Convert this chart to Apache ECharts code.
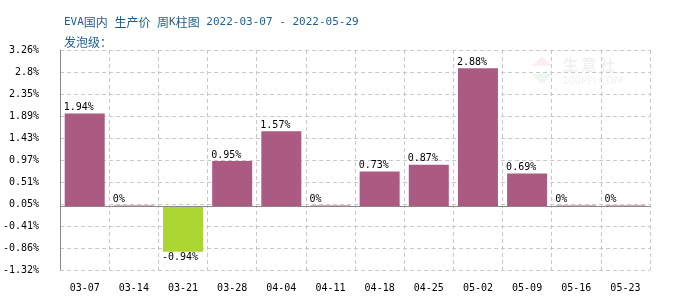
<!DOCTYPE html>
<html><head><meta charset="utf-8">
<script src="https://cdn.jsdelivr.net/npm/echarts@6/dist/echarts.min.js"></script>
<style>html,body{margin:0;padding:0;background:#fff}#c{width:700px;height:300px}</style>
</head><body><div id="c"></div>
<script>
const categories = ['03-07','03-14','03-21','03-28','04-04','04-11','04-18','04-25','05-02','05-09','05-16','05-23'];
const values = [1.94, 0, -0.94, 0.95, 1.57, 0, 0.73, 0.87, 2.88, 0.69, 0, 0];
const yTickLabels = ['-1.32%','-0.86%','-0.41%','0.05%','0.51%','0.97%','1.43%','1.89%','2.35%','2.8%','3.26%'];
const yMin = -1.32, yMax = 3.26;

const mono = '"DejaVu Sans Mono", "Liberation Mono", monospace';
const cjk = '"Noto Sans CJK SC", sans-serif';
const chart = echarts.init(document.getElementById('c'), null, {renderer: 'canvas'});
chart.setOption({
  animation: false,
  backgroundColor: '#fff',
  title: {
    text: '{m|EVA}{a|国内}{m| }{a|生产价}{m| }{a|周}{m|K}{a|柱图}{m| 2022-03-07 - 2022-05-29}\n{a|发泡级：}',
    left: 59, top: 7,
    textStyle: {
      color: '#1F5F8E', fontSize: 12, fontWeight: 'normal', fontFamily: cjk, lineHeight: 20,
      rich: {
        a: {color: '#1F5F8E', fontSize: 12, fontFamily: cjk, lineHeight: 20},
        m: {color: '#1F5F8E', fontSize: 11, fontFamily: mono, lineHeight: 20}
      }
    }
  },
  graphic: [
    {type: 'polygon', shape: {points: [[542,56],[552,66],[532,66]]}, style: {fill: '#fbeeee'}, silent: true},
    {type: 'polygon', shape: {points: [[532,74],[552,74],[542,85]]}, style: {fill: '#edf7ef'}, silent: true},
    {type: 'text', left: 563, top: 57, style: {text: '生 意 社', fill: '#f1f1f4', font: 'bold 15px "Noto Sans CJK SC"'}, silent: true},
    {type: 'text', left: 562, top: 76, style: {text: '100PPI.COM', fill: '#f1f1f4', font: '10px "DejaVu Sans"'}, silent: true}
  ],
  grid: {left: 60, right: 50, top: 50, bottom: 30},
  xAxis: {
    type: 'category', data: categories,
    axisLine: {show: true, lineStyle: {color: '#888', width: 1}},
    axisTick: {show: false},
    axisLabel: {color: '#000', fontSize: 10, fontFamily: mono, margin: 13},
    splitLine: {show: true, lineStyle: {color: '#c8c8c8', type: [4, 3]}}
  },
  yAxis: [
    {type: 'value', min: yMin, max: yMax, show: false, splitLine: {show: false}},
    {type: 'value', min: 0, max: yTickLabels.length - 1, interval: 1, position: 'left',
      axisLine: {show: true, lineStyle: {color: '#888'}},
      axisTick: {show: false},
      axisLabel: {color: '#000', fontSize: 10, fontFamily: mono, margin: 21, formatter: (v) => yTickLabels[Math.round(v)]},
      splitLine: {show: true, lineStyle: {color: '#c8c8c8', type: [4, 3]}}
    }
  ],
  series: [{
    type: 'bar', yAxisIndex: 0, barWidth: 40, barMinHeight: 1,
    data: values.map(v => ({
      value: v,
      itemStyle: {color: v < 0 ? '#ADD633' : '#AB5A82'},
      label: {position: v < 0 ? 'bottom' : 'top'}
    })),
    label: {show: true, color: '#000', fontSize: 10, fontFamily: mono, align: 'left', offset: [-21, 0], distance: 1,
      formatter: (p) => p.value + '%'},
    markLine: {silent: true, symbol: 'none', label: {show: false},
      lineStyle: {color: '#888', type: 'solid', width: 1},
      data: [{yAxis: 0}]}
  }]
});
</script></body></html>
